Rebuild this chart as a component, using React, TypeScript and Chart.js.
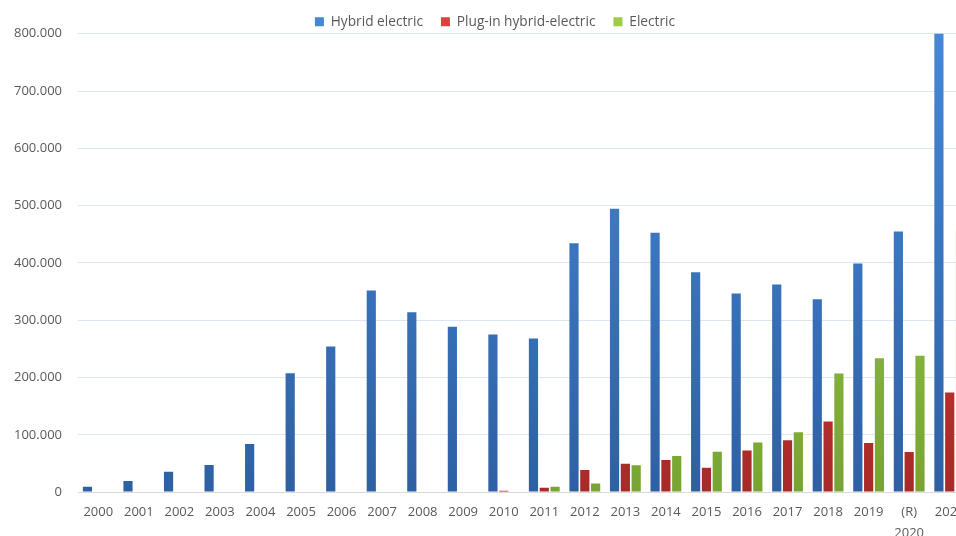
import React, { useEffect, useRef } from "react";
import { Chart, registerables } from "chart.js";

Chart.register(...registerables);

const categories: (string | string[])[] = [
  "2000", "2001", "2002", "2003", "2004", "2005", "2006", "2007", "2008", "2009",
  "2010", "2011", "2012", "2013", "2014", "2015", "2016", "2017", "2018", "2019",
  ["(R)", "2020"], "2021",
];

const hybridElectric = [
  9350, 19500, 35500, 47500, 84000, 207500, 254000, 352000, 314000, 288500,
  275000, 268000, 434500, 494500, 452500, 383500, 346500, 362500, 336500, 399000,
  455000, 810000,
];

const pluginHybrid = [
  0, 0, 0, 0, 0, 0, 0, 0, 0, 0,
  2500, 7600, 38500, 49500, 56000, 42500, 72500, 90500, 123000, 85500,
  70000, 174000,
];

const electric = [
  0, 0, 0, 0, 0, 0, 0, 0, 0, 0,
  0, 9500, 15000, 47000, 63000, 70500, 86500, 104500, 207000, 233500,
  238000, 460000,
];

const yTicks = [0, 100000, 200000, 300000, 400000, 500000, 600000, 700000, 800000];

function fmt(v: number): string {
  return String(Math.round(v)).replace(/\B(?=(\d{3})+(?!\d))/g, ".");
}

function grad(top: string, bottom: string) {
  return (ctx: any) => {
    const chart = ctx.chart;
    const area = chart.chartArea;
    if (!area) return bottom;
    const g = chart.ctx.createLinearGradient(0, area.top, 0, area.bottom);
    g.addColorStop(0, top);
    g.addColorStop(1, bottom);
    return g;
  };
}

const legendTweak = {
  id: "legendTweak",
  beforeLayout(chart: any) {
    const lg = chart.legend;
    if (lg && !lg.__patched) {
      const orig = lg.fit.bind(lg);
      lg.fit = function () {
        orig();
        this.height = Math.max(0, this.height - 5);
      };
      lg.__patched = true;
    }
  },
  afterLayout(chart: any) {
    const lg = chart.legend;
    if (lg) {
      lg.left += 4;
      lg.right += 4;
    }
  },
};

export default function App() {
  const ref = useRef<HTMLCanvasElement | null>(null);

  useEffect(() => {
    document.documentElement.style.overflow = "hidden";
    document.body.style.overflow = "hidden";
    document.body.style.margin = "0";
    if (!ref.current) return;
    const font = { family: "'Open Sans', sans-serif", size: 13 };
    const chart = new Chart(ref.current, {
      type: "bar",
      data: {
        labels: categories,
        datasets: [
          {
            label: "Hybrid electric",
            data: hybridElectric,
            backgroundColor: grad("#4588d8", "#2e60a3"),
            categoryPercentage: 0.8,
            barPercentage: 0.85,
          },
          {
            label: "Plug-in hybrid-electric",
            data: pluginHybrid,
            backgroundColor: grad("#e0403d", "#a82a28"),
            categoryPercentage: 0.8,
            barPercentage: 0.85,
          },
          {
            label: "Electric",
            data: electric,
            backgroundColor: grad("#9ccc4a", "#78a532"),
            categoryPercentage: 0.8,
            barPercentage: 0.85,
          },
        ],
      },
      options: {
        animation: false,
        responsive: true,
        maintainAspectRatio: false,
        layout: { padding: { left: 4, right: 12, top: -11, bottom: 1 } },
        plugins: {
          legend: {
            position: "top",
            labels: {
              boxWidth: 9,
              boxHeight: 9,
              padding: 18,
              color: "#595959",
              font: { ...font, size: 13.7 },
            },
          },
          tooltip: { enabled: false },
        },
        scales: {
          x: {
            grid: { display: false, drawTicks: false },
            border: { display: true, color: "#d9d9d9" },
            ticks: {
              color: "#595959",
              font: { ...font, lineHeight: 1.65 },
              padding: 9,
              maxRotation: 0,
              autoSkip: false,
            },
          },
          y: {
            min: 0,
            max: 800000,
            afterBuildTicks: (axis: any) => {
              axis.ticks = yTicks.map((v) => ({ value: v }));
            },
            afterFit: (axis: any) => {
              axis.width = 66;
            },
            grid: { color: "#dde5f0", drawTicks: false },
            border: { display: false },
            ticks: {
              color: "#595959",
              font,
              padding: 16,
              callback: (v: any) => fmt(Number(v)),
            },
          },
        },
      },
      plugins: [legendTweak],
    });
    return () => chart.destroy();
  }, []);

  return (
    <div style={{ width: 956, height: 536, overflow: "hidden", position: "relative" }}>
      <div style={{ position: "absolute", left: 8, top: 8, width: 974, height: 546 }}>
        <canvas ref={ref} />
      </div>
    </div>
  );
}
